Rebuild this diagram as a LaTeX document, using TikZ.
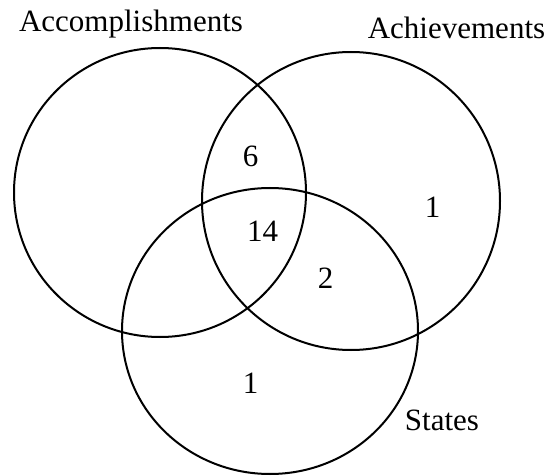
\documentclass[tikz,border=0pt]{standalone}
\usepackage{fontspec}
\setmainfont{Liberation Serif}
\begin{document}
\begin{tikzpicture}[x=1pt,y=-1pt,
  venn/.style={draw=black,line width=2pt},
  lbl/.style={anchor=base,inner sep=0pt,font=\fontsize{31}{37}\selectfont}]
\useasboundingbox[fill=white] (0,0) rectangle (552,476);
\draw[venn] (160,192.5) ellipse [x radius=146, y radius=144.5];
\draw[venn] (351,201) ellipse [x radius=149, y radius=149];
\draw[venn] (270,331) ellipse [x radius=148, y radius=143];
\node[lbl] (acc) at (131,31.7) {Accomplishments};
\node[lbl] (ach) at (456.5,38.3) {Achievements};
\node[lbl] (sta) at (442,430) {States};
\node[lbl] (n6) at (250.5,167) {6};
\node[lbl] (n14) at (262.5,241) {14};
\node[lbl] (n1a) at (432.5,218) {1};
\node[lbl] (n2) at (325.5,288) {2};
\node[lbl] (n1b) at (250.5,393) {1};
\end{tikzpicture}
\end{document}
